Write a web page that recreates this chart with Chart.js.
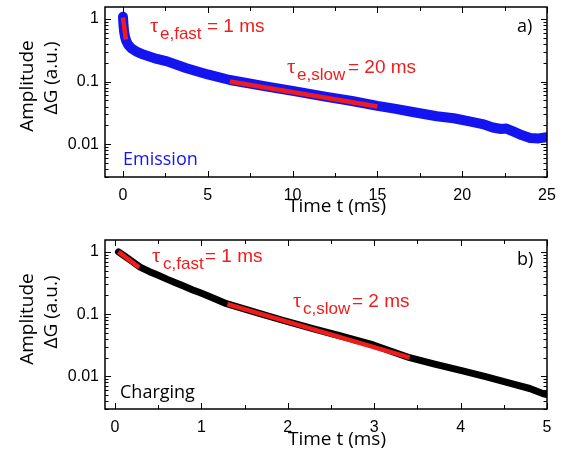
<!DOCTYPE html>
<html>
<head>
<meta charset="utf-8">
<script src="https://cdn.jsdelivr.net/npm/chart.js@4.4.1/dist/chart.umd.min.js"></script>
<style>
	html, body { margin: 0; padding: 0; background: #fff; }
	.box { position: absolute; left: 0; width: 565px; height: 229px; }
</style>
</head>
<body>
<div class="box" style="top:0"><canvas id="emissionCanvas"></canvas></div>
<div class="box" style="top:229px"><canvas id="chargingCanvas"></canvas></div>
<script>
// values (time in ms, amplitude in a.u.)
var emissionT = [0, 0.03, 0.07, 0.12, 0.2, 0.3, 0.5, 0.8, 1.2, 2.0, 2.6, 3.7, 5.0, 6.3, 8.5, 10, 12, 13.5, 15, 16, 17, 18.5, 19.5, 20.5, 21.2, 21.8, 22.3, 22.6, 23.0, 23.5, 24.0, 24.5, 25];
var emissionAmp = [1.08, 0.8, 0.62, 0.52, 0.44, 0.39, 0.34, 0.30, 0.27, 0.23, 0.21, 0.165, 0.13, 0.106, 0.083, 0.071, 0.057, 0.049, 0.041, 0.037, 0.033, 0.028, 0.026, 0.023, 0.021, 0.0185, 0.0175, 0.0178, 0.016, 0.014, 0.0126, 0.0124, 0.013];
var emissionFastT = [0, 0.17];
var emissionFastAmp = [1.05, 0.47];
var emissionSlowT = [6.3, 15];
var emissionSlowAmp = [0.1, 0.04];

var chargingT = [0.04, 0.1, 0.2, 0.29, 0.4, 0.5, 0.6, 0.7, 0.8, 0.9, 0.98, 1.1, 1.29, 1.6, 1.91, 2.3, 2.6, 2.99, 3.41, 3.7, 4.0, 4.3, 4.6, 4.8, 4.95, 5.0];
var chargingAmp = [1.0, 0.88, 0.70, 0.57, 0.48, 0.42, 0.365, 0.32, 0.28, 0.245, 0.222, 0.19, 0.147, 0.11, 0.082, 0.058, 0.045, 0.032, 0.020, 0.0158, 0.0125, 0.0098, 0.0076, 0.0064, 0.0053, 0.0051];
var chargingFastT = [0.04, 0.28];
var chargingFastAmp = [1.0, 0.56];
var chargingSlowT = [1.3, 3.41];
var chargingSlowAmp = [0.145, 0.02];

var emissionXTicks = [0, 5, 10, 15, 20, 25];
var emissionXMinor = 2.5;
var chargingXTicks = [0, 1, 2, 3, 4, 5];
var chargingXMinor = 0.5;
var yTickLabels = [0.01, 0.1, 1];

Chart.defaults.font.family = "'Liberation Sans', Arial, sans-serif";
Chart.defaults.color = '#000';

function points(xs, ys) {
	var out = [];
	for (var i = 0; i < xs.length; i++) {
		out.push({ x: xs[i], y: ys[i] });
	}
	return out;
}

function isLabelled(list, v) {
	for (var i = 0; i < list.length; i++) {
		if (Math.abs(list[i] - v) < 1e-9) return true;
	}
	return false;
}

// frame round the plot with small inward ticks on all four sides
var frameTicks = {
	id: 'frameTicks',
	afterDatasetsDraw: function (chart) {
		var ctx = chart.ctx;
		var a = chart.chartArea;
		var xs = chart.scales.x;
		var ys = chart.scales.y;
		var xMajor = chart.options.plugins.frameTicks.xMajor;
		ctx.save();
		ctx.strokeStyle = '#000';
		ctx.lineWidth = 1;
		ctx.beginPath();
		xs.ticks.forEach(function (t) {
			var px = Math.round(xs.getPixelForValue(t.value)) + 0.5;
			var len = isLabelled(xMajor, t.value) ? 6 : 4;
			ctx.moveTo(px, a.bottom); ctx.lineTo(px, a.bottom - len);
			ctx.moveTo(px, a.top); ctx.lineTo(px, a.top + len);
		});
		ys.ticks.forEach(function (t) {
			var py = Math.round(ys.getPixelForValue(t.value)) + 0.5;
			var len = isLabelled(yTickLabels, t.value) ? 6 : 3.5;
			ctx.moveTo(a.left, py); ctx.lineTo(a.left + len, py);
			ctx.moveTo(a.right, py); ctx.lineTo(a.right - len, py);
		});
		ctx.stroke();
		ctx.lineWidth = 1.5;
		ctx.strokeRect(a.left, a.top, a.right - a.left, a.bottom - a.top);
		ctx.restore();
	}
};

// text labels and axis titles
var notes = {
	id: 'notes',
	afterDraw: function (chart) {
		var ctx = chart.ctx;
		var list = chart.options.plugins.notes.items;
		list.forEach(function (n) {
			ctx.save();
			ctx.fillStyle = n.color;
			ctx.font = n.font;
			ctx.textAlign = n.align || 'left';
			ctx.textBaseline = n.baseline || 'alphabetic';
			ctx.translate(n.x, n.y);
			if (n.rotate) ctx.rotate(-Math.PI / 2);
			ctx.fillText(n.text, 0, 0);
			ctx.restore();
		});
	}
};

function tauNote(x, y, sub, rest, subX, restX) {
	var red = '#f01c1c';
	return [
		{ text: '\u03c4', x: x, y: y, color: red, font: "21px 'Liberation Serif'" },
		{ text: sub, x: subX, y: y + 7, color: red, font: "17px 'Liberation Sans'" },
		{ text: rest, x: restX, y: y, color: red, font: "19px 'Liberation Sans'" }
	];
}

function titles(ampY, dgY, timeY) {
	var f = "19px 'Open Sans'";
	return [
		{ text: 'Amplitude', x: 28, y: ampY, rotate: true, align: 'center', baseline: 'middle', color: '#000', font: f },
		{ text: '\u0394G (a.u.)', x: 52, y: dgY, rotate: true, align: 'center', baseline: 'middle', color: '#000', font: f },
		{ text: 'Time t (ms)', x: 337, y: timeY, align: 'center', baseline: 'middle', color: '#000', font: f }
	];
}

function yTicks(scale) {
	var t = [];
	for (var e = -4; e <= 0; e++) {
		for (var m = 1; m <= 9; m++) {
			var v = parseFloat((m * Math.pow(10, e)).toPrecision(3));
			if (v >= scale.min && v <= scale.max) t.push({ value: v });
		}
	}
	scale.ticks = t;
}

function makeChart(id, opts) {
	return new Chart(document.getElementById(id), {
		type: 'line',
		data: {
			datasets: [
				{ data: points(opts.fastT, opts.fastAmp), borderColor: '#f01c1c', borderWidth: 4.5, borderCapStyle: 'butt' },
				{ data: points(opts.slowT, opts.slowAmp), borderColor: '#f01c1c', borderWidth: 4.5, borderCapStyle: 'butt' },
				{ data: points(opts.t, opts.amp), borderColor: opts.color, borderWidth: opts.width, borderCapStyle: 'round', borderJoinStyle: 'round' }
			]
		},
		options: {
			responsive: true,
			maintainAspectRatio: false,
			animation: false,
			devicePixelRatio: 1,
			layout: { padding: { top: opts.top, right: 18, left: 0, bottom: 0 } },
			elements: { point: { radius: 0 }, line: { tension: 0 } },
			plugins: {
				legend: { display: false },
				tooltip: { enabled: false },
				frameTicks: { xMajor: opts.xTicks },
				notes: { items: opts.notes }
			},
			scales: {
				x: {
					type: 'linear',
					min: opts.xMin,
					max: opts.xMax,
					grid: { display: false, drawTicks: false },
					border: { display: false },
					afterBuildTicks: function (scale) {
						var t = [];
						for (var v = 0; v <= opts.xMax + 1e-9; v += opts.xMinor) {
							t.push({ value: parseFloat(v.toFixed(3)) });
						}
						scale.ticks = t;
					},
					afterFit: function (scale) {
						scale.height = opts.xAxisH;
						scale.paddingLeft = 0;
						scale.paddingRight = 0;
					},
					ticks: {
						autoSkip: false,
						maxRotation: 0,
						padding: 9,
						font: { size: 16 },
						callback: function (v) { return isLabelled(opts.xTicks, v) ? String(v) : ''; }
					}
				},
				y: {
					type: 'logarithmic',
					min: 0.003,
					max: 1.55,
					grid: { display: false, drawTicks: false },
					border: { display: false },
					afterBuildTicks: yTicks,
					afterFit: function (scale) {
						scale.width = 105;
						scale.paddingTop = 0;
						scale.paddingBottom = 0;
					},
					ticks: {
						autoSkip: false,
						padding: 6,
						font: { size: 16 },
						callback: function (v) { return isLabelled(yTickLabels, v) ? String(v) : ''; }
					}
				}
			}
		},
		plugins: [frameTicks, notes]
	});
}

var emissionNotes = []
	.concat(tauNote(150, 32, 'e,fast', '= 1 ms', 160, 207))
	.concat(tauNote(287, 73, 'e,slow', '= 20 ms', 297, 348))
	.concat(titles(86, 78, 207))
	.concat([
		{ text: 'a)', x: 517, y: 32, color: '#000', font: "18px 'Open Sans'" },
		{ text: 'Emission', x: 123, y: 165, color: '#1414f0', font: "18px 'Open Sans'" }
	]);

var chargingNotes = []
	.concat(tauNote(152, 33, 'c,fast', '= 1 ms', 163, 205))
	.concat(tauNote(293, 78, 'c,slow', '= 2 ms', 303, 352))
	.concat(titles(90, 83, 211))
	.concat([
		{ text: 'b)', x: 517, y: 36, color: '#000', font: "18px 'Open Sans'" },
		{ text: 'Charging', x: 120, y: 169, color: '#000', font: "18px 'Open Sans'" }
	]);

makeChart('emissionCanvas', {
	t: emissionT, amp: emissionAmp,
	fastT: emissionFastT, fastAmp: emissionFastAmp,
	slowT: emissionSlowT, slowAmp: emissionSlowAmp,
	color: '#1414f0', width: 10,
	xMin: -1.06, xMax: 25, xTicks: emissionXTicks, xMinor: emissionXMinor,
	top: 7, xAxisH: 52,
	notes: emissionNotes
});

makeChart('chargingCanvas', {
	t: chargingT, amp: chargingAmp,
	fastT: chargingFastT, fastAmp: chargingFastAmp,
	slowT: chargingSlowT, slowAmp: chargingSlowAmp,
	color: '#000', width: 7,
	xMin: -0.116, xMax: 5, xTicks: chargingXTicks, xMinor: chargingXMinor,
	top: 11, xAxisH: 49,
	notes: chargingNotes
});
</script>
</body>
</html>
